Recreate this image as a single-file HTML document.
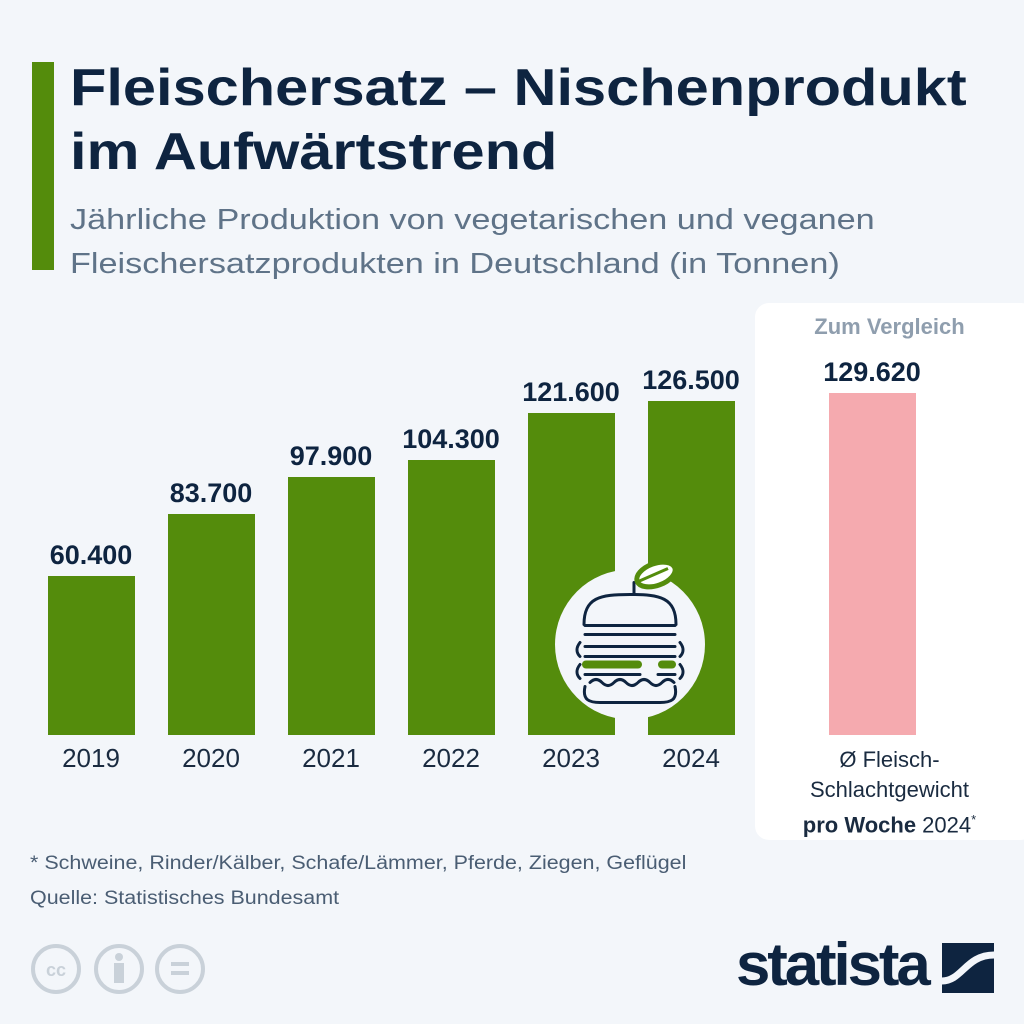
<!DOCTYPE html>
<html><head><meta charset="utf-8"><style>
body{margin:0;width:1024px;height:1024px;background:#f3f6fa;font-family:"Liberation Sans","DejaVu Sans",sans-serif;overflow:hidden;position:relative}
.a{position:absolute}
.t{left:70px;top:56px;font-size:52px;font-weight:bold;color:#0e2440;line-height:64px;transform:scaleX(1.145);transform-origin:left;white-space:nowrap}
.s{left:70px;top:198px;font-size:29px;color:#5f7388;line-height:44px;transform:scaleX(1.18);transform-origin:left;white-space:nowrap}
.bar{position:absolute;background:#548c0c;width:87px;bottom:289px}
.v{position:absolute;width:140px;text-align:center;font-size:27px;font-weight:bold;color:#0e2440}
.y{position:absolute;width:120px;text-align:center;font-size:26px;color:#1a2b40;top:743px}
.f{font-size:19px;color:#4a5d73;transform:scaleX(1.13);transform-origin:left;white-space:nowrap}
</style></head><body>
<div class="a" style="left:32px;top:62px;width:22px;height:208px;background:#548c0c"></div>
<div class="a t">Fleischersatz – Nischenprodukt<br>im Aufwärtstrend</div>
<div class="a s">Jährliche Produktion von vegetarischen und veganen<br>Fleischersatzprodukten in Deutschland (in Tonnen)</div>
<div class="a" style="left:755px;top:303px;width:280px;height:537px;background:#fff;border-radius:14px"></div>
<div class="a" style="left:755px;top:314px;width:269px;text-align:center;font-size:22px;font-weight:bold;color:#8f9eae">Zum Vergleich</div>

<div class="bar" style="left:48px;top:576px"></div>
<div class="bar" style="left:168px;top:514px"></div>
<div class="bar" style="left:288px;top:477px"></div>
<div class="bar" style="left:408px;top:460px"></div>
<div class="bar" style="left:528px;top:413px"></div>
<div class="bar" style="left:648px;top:401px"></div>
<div class="bar" style="left:829px;top:393px;background:#f5aaaf"></div>

<div class="v" style="left:21px;top:540px">60.400</div>
<div class="v" style="left:141px;top:478px">83.700</div>
<div class="v" style="left:261px;top:441px">97.900</div>
<div class="v" style="left:381px;top:424px">104.300</div>
<div class="v" style="left:501px;top:377px">121.600</div>
<div class="v" style="left:621px;top:365px">126.500</div>
<div class="v" style="left:802px;top:357px">129.620</div>

<div class="y" style="left:31px">2019</div>
<div class="y" style="left:151px">2020</div>
<div class="y" style="left:271px">2021</div>
<div class="y" style="left:391px">2022</div>
<div class="y" style="left:511px">2023</div>
<div class="y" style="left:631px">2024</div>
<div class="a" style="left:755px;top:745px;width:269px;text-align:center;font-size:22px;line-height:30px;color:#1a2b40">Ø Fleisch-<br>Schlachtgewicht<br><b>pro Woche</b> 2024<sup style="font-size:13px">*</sup></div>

<svg class="a" style="left:540px;top:550px" width="180" height="185" viewBox="0 0 180 180">
<rect x="75" y="0" width="33" height="185" fill="#f3f6fa"/>
<circle cx="90" cy="92" r="75" fill="#f3f6fa"/>
<g fill="none" stroke="#0e2440" stroke-width="3" stroke-linecap="round">
<path d="M44 72 C44 45 60 42 90 42 C120 42 136 45 136 72"/>
<path d="M45 73 H135"/>
<path d="M45 82 H135 M45 94 H135 M45 104 H135"/>
<path d="M40 90 C36 95 36 100 40 104 M140 90 C144 95 144 100 140 104"/>
<path d="M40 112 C36 117 36 122 40 126 M140 112 C144 117 144 122 140 126"/>
<path d="M45 122 H100 M118 122 H135"/>
<path d="M50 130 q6 -6 12 0 q6 6 12 0 q6 -6 12 0 q6 6 12 0 q6 -6 12 0 q6 6 12 0 q6 -6 12 0"/>
<path d="M45 134 C42 148 50 150 60 150 H120 C130 150 138 148 135 134"/>
<path d="M94 42 V30"/>
</g>
<rect x="42" y="108" width="60" height="8" rx="4" fill="#548c0c"/>
<rect x="118" y="108" width="18" height="8" rx="4" fill="#548c0c"/>
<ellipse cx="116" cy="22" rx="20" ry="11" transform="rotate(-20 116 22)" fill="#fff" stroke="#548c0c" stroke-width="5"/>
<path d="M96 30 L128 16" stroke="#548c0c" stroke-width="3"/>
</svg>

<div class="a f" style="left:30px;top:853px">* Schweine, Rinder/Kälber, Schafe/Lämmer, Pferde, Ziegen, Geflügel</div>
<div class="a f" style="left:30px;top:888px">Quelle: Statistisches Bundesamt</div>

<svg class="a" style="left:30px;top:942px" width="180" height="56">
<g fill="none" stroke="#c9d1d9" stroke-width="4"><circle cx="26" cy="27" r="23"/><circle cx="89" cy="27" r="23"/><circle cx="150" cy="27" r="23"/></g>
<text x="26" y="34" text-anchor="middle" font-size="18" font-weight="bold" fill="#c9d1d9" font-family="Liberation Sans">cc</text>
<circle cx="89" cy="15" r="4" fill="#c9d1d9"/><rect x="84" y="21" width="10" height="20" fill="#c9d1d9"/>
<rect x="141" y="20" width="18" height="4" fill="#c9d1d9"/><rect x="141" y="29" width="18" height="4" fill="#c9d1d9"/>
</svg>
<div class="a" style="left:736px;top:930px;font-size:60px;font-weight:bold;color:#0e2440;letter-spacing:-3px;transform:scaleX(1.03);transform-origin:left">statista</div>
<svg class="a" style="left:942px;top:943px" width="52" height="50"><rect width="52" height="50" fill="#0e2440"/><path d="M0 38C20 38 24 12 52 12" stroke="#f3f6fa" stroke-width="7" fill="none"/></svg>
</body></html>
